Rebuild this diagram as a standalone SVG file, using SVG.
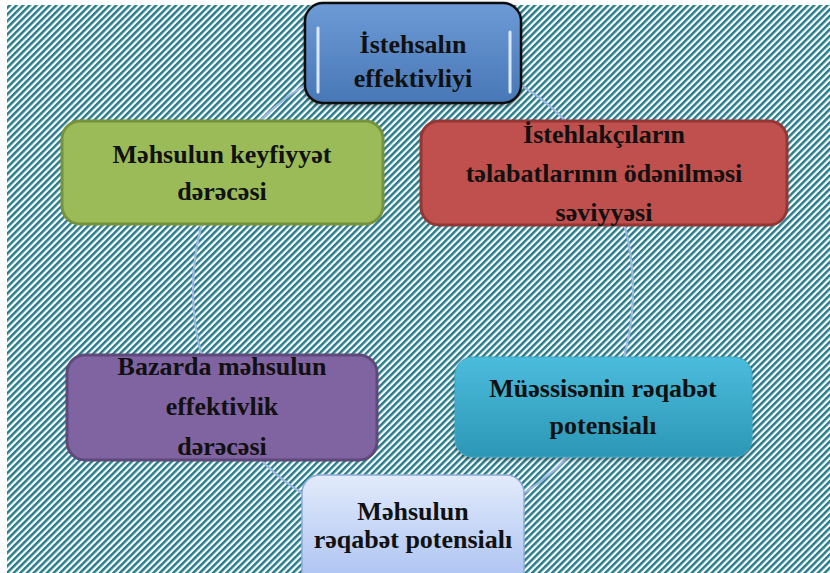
<svg xmlns="http://www.w3.org/2000/svg" width="830" height="573" viewBox="0 0 830 573">
<style>
  .t { font-family: "Liberation Serif", "Times New Roman", serif; font-weight: bold; font-size: 26px; fill: #111; text-anchor: middle; }
  .box { stroke-width: 3; }
</style>
<defs>
  <pattern id="hatch" width="4.7" height="10" patternUnits="userSpaceOnUse" patternTransform="rotate(45)">
    <rect x="0" y="0" width="2.5" height="10" fill="#277c8b"/>
  </pattern>
  <linearGradient id="gTop" x1="0" y1="0" x2="0" y2="1">
    <stop offset="0" stop-color="#6d9bd6"/>
    <stop offset="1" stop-color="#4877b6"/>
  </linearGradient>
  <linearGradient id="gCyan" x1="0" y1="0" x2="0" y2="1">
    <stop offset="0" stop-color="#4cbcdc"/>
    <stop offset="1" stop-color="#2c97b6"/>
  </linearGradient>
  <linearGradient id="gBot" x1="0" y1="0" x2="0" y2="1">
    <stop offset="0" stop-color="#e2ebfb"/>
    <stop offset="1" stop-color="#a7bff1"/>
  </linearGradient>
  <filter id="sh" x="-10%" y="-10%" width="120%" height="130%">
    <feDropShadow dx="0" dy="2" stdDeviation="2" flood-color="#000" flood-opacity="0.35"/>
  </filter>
</defs>
<rect width="830" height="573" fill="#fff"/>
<rect x="7" y="5" width="823" height="568" fill="url(#hatch)"/>

<g id="connectors">
  <ellipse cx="413" cy="290" rx="220" ry="235" fill="none" stroke="#9db8e2" stroke-width="2.2"/>
</g>

<g id="node-top">
  <rect x="305" y="3" width="216" height="100" rx="18" fill="url(#gTop)" stroke="#111" stroke-width="2.5" filter="url(#sh)"/>
  <line x1="318" y1="28" x2="318" y2="92" stroke="#dbe8fb" stroke-width="3" stroke-linecap="round"/>
  <line x1="510" y1="32" x2="510" y2="92" stroke="#dbe8fb" stroke-width="3" stroke-linecap="round"/>
  <text class="t" x="413" y="53" font-size="27">İstehsalın</text>
  <text class="t" x="413" y="87" font-size="27">effektivliyi</text>
</g>

<g id="node-green">
  <rect class="box" x="62" y="121" width="321" height="103" rx="18" fill="#9bbb59" stroke="#76923c"/>
  <text class="t" x="222" y="163">Məhsulun keyfiyyət</text>
  <text class="t" x="222" y="200">dərəcəsi</text>
</g>

<g id="node-red">
  <rect class="box" x="421" y="121" width="366" height="104" rx="18" fill="#c0504d" stroke="#943634"/>
  <text class="t" x="604" y="143">İstehlakçıların</text>
  <text class="t" x="604" y="182">təlabatlarının ödənilməsi</text>
  <text class="t" x="604" y="221">səviyyəsi</text>
</g>

<g id="node-purple">
  <rect class="box" x="67" y="355" width="310" height="105" rx="18" fill="#8064a2" stroke="#5f497a"/>
  <text class="t" x="222" y="375">Bazarda məhsulun</text>
  <text class="t" x="222" y="415">effektivlik</text>
  <text class="t" x="222" y="455">dərəcəsi</text>
</g>

<g id="node-cyan">
  <rect x="455" y="357" width="297" height="100" rx="18" fill="url(#gCyan)" stroke="#3aa6c4" stroke-width="1" filter="url(#sh)"/>
  <text class="t" x="603" y="397">Müəssisənin rəqabət</text>
  <text class="t" x="603" y="434">potensialı</text>
</g>

<g id="node-bottom">
  <rect x="302" y="475" width="222" height="115" rx="18" fill="url(#gBot)" stroke="#8eaadb" stroke-width="1.5"/>
  <text class="t" x="413" y="520">Məhsulun</text>
  <text class="t" x="413" y="548">rəqabət potensialı</text>
</g>
</svg>
